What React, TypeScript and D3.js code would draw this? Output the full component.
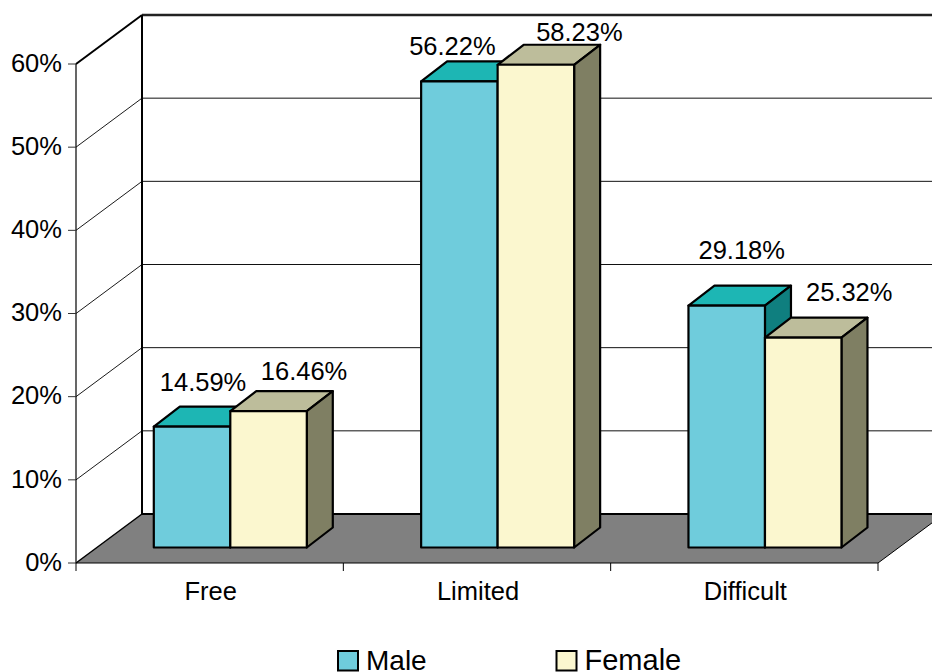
import React from "react";
import * as d3 from "d3";

const categories = ["Free", "Limited", "Difficult"];
const seriesNames = ["Male", "Female"];
const maleValues = [14.59, 56.22, 29.18];
const femaleValues = [16.46, 58.23, 25.32];
const tickValues = [0, 10, 20, 30, 40, 50, 60];

// Hand-placed data label offsets from the top centre of each bar's front face.
const maleLabelNudge = [[11, -36], [-7, -26], [15, -47]];
const femaleLabelNudge = [[35.5, -31], [43.5, -24], [46, -37]];

const maleColors = { front: "#6fccdc", top: "#1db6b4", side: "#0f7f7f" };
const femaleColors = { front: "#fbf7cf", top: "#bdbd9b", side: "#7f7f63" };

const FONT = '"Liberation Sans", Arial, sans-serif';
const WALL_DX = 66;
const WALL_DY = -49;
const BAR_DX = 26;
const BAR_DY = -20;
const BAR_W = 76.5;
const BAR_OFFSET = 77.8;

// Front edge of the walls, and the plane the bars' front faces stand on.
const y = d3.scaleLinear().domain([0, 60]).range([563, 64]);
const yBar = d3.scaleLinear().domain([0, 60]).range([547.5, 50.1]);
const x = d3.scaleBand<string>().domain(categories).range([76, 878]);
const pts = (p: number[][]) => p.map((q) => q.join(",")).join(" ");

function Bar({ x0, value, colors }: { x0: number; value: number; colors: typeof maleColors }) {
  const x1 = x0 + BAR_W;
  const bottom = yBar(0);
  const top = yBar(value);
  const common = { stroke: "#000", strokeWidth: 2.2, strokeLinejoin: "round" as const };
  return (
    <g>
      <polygon {...common} fill={colors.top}
        points={pts([[x0, top], [x1, top], [x1 + BAR_DX, top + BAR_DY], [x0 + BAR_DX, top + BAR_DY]])} />
      <polygon {...common} fill={colors.side}
        points={pts([[x1, top], [x1 + BAR_DX, top + BAR_DY], [x1 + BAR_DX, bottom + BAR_DY], [x1, bottom]])} />
      <rect {...common} x={x0} y={top} width={BAR_W} height={bottom - top} fill={colors.front} />
    </g>
  );
}

export default function App() {
  const left = x.range()[0];
  const right = x.range()[1];
  const backLeft = left + WALL_DX;
  const backRight = right + WALL_DX;
  const textProps = { fontFamily: FONT, fontSize: 25.5, fill: "#000" };
  return (
    <svg width={932} height={672} style={{ position: "absolute", left: 0, top: 0, background: "#fff" }}>
      {/* floor */}
      <polygon fill="#808080"
        points={pts([[left, y(0)], [right, y(0)], [backRight, y(0) + WALL_DY], [backLeft, y(0) + WALL_DY]])} />
      <line x1={backLeft} x2={932} y1={y(0) + WALL_DY} y2={y(0) + WALL_DY} stroke="#000" strokeWidth={2} />
      <line x1={left} y1={y(0)} x2={backLeft} y2={y(0) + WALL_DY} stroke="#000" strokeWidth={1.5} />
      <line x1={right} y1={y(0)} x2={backRight} y2={y(0) + WALL_DY} stroke="#000" strokeWidth={1} />

      {/* gridlines across the side and back walls */}
      {tickValues.slice(1).map((t) => {
        const top = t === 60;
        return (
          <g key={t}>
            <line x1={left} y1={y(t)} x2={backLeft} y2={y(t) + WALL_DY} stroke="#000" strokeWidth={top ? 2 : 0.9} />
            <line x1={backLeft} y1={y(t) + WALL_DY} x2={932} y2={y(t) + WALL_DY} stroke={top ? "#222" : "#111"} strokeWidth={top ? 2.4 : 1} />
          </g>
        );
      })}
      <line x1={backLeft} x2={backLeft} y1={y(60) + WALL_DY} y2={y(0) + WALL_DY} stroke="#000" strokeWidth={2} />

      {/* value axis */}
      <line x1={left} x2={left} y1={y(60)} y2={y(0)} stroke="#000" strokeWidth={1.2} />
      {tickValues.map((t) => (
        <g key={t}>
          <line x1={left - 8} x2={left} y1={y(t)} y2={y(t)} stroke="#333" strokeWidth={1} />
          <text {...textProps} x={62} y={y(t) + 7.8} textAnchor="end">{t}%</text>
        </g>
      ))}

      {/* category axis */}
      <line x1={left} x2={right} y1={y(0)} y2={y(0)} stroke="#000" strokeWidth={1} />
      {[...categories.map((c) => x(c) as number), right].map((tx) => (
        <line key={tx} x1={tx} x2={tx} y1={y(0)} y2={y(0) + 8} stroke="#000" strokeWidth={1} />
      ))}
      {categories.map((c) => (
        <text key={c} {...textProps} x={(x(c) as number) + x.bandwidth() / 2 + 1} y={600} textAnchor="middle">{c}</text>
      ))}

      {/* bars */}
      {categories.map((c, i) => {
        const x0 = (x(c) as number) + BAR_OFFSET;
        return (
          <g key={c}>
            <Bar x0={x0} value={maleValues[i]} colors={maleColors} />
            <Bar x0={x0 + BAR_W} value={femaleValues[i]} colors={femaleColors} />
          </g>
        );
      })}

      {/* data labels */}
      {categories.map((c, i) => {
        const x0 = (x(c) as number) + BAR_OFFSET;
        return (
          <g key={c}>
            <text {...textProps} textAnchor="middle"
              x={x0 + BAR_W / 2 + maleLabelNudge[i][0]}
              y={yBar(maleValues[i]) + maleLabelNudge[i][1]}>{maleValues[i].toFixed(2)}%</text>
            <text {...textProps} textAnchor="middle"
              x={x0 + BAR_W * 1.5 + femaleLabelNudge[i][0]}
              y={yBar(femaleValues[i]) + femaleLabelNudge[i][1]}>{femaleValues[i].toFixed(2)}%</text>
          </g>
        );
      })}

      {/* legend */}
      {seriesNames.map((name, i) => {
        const lx = [338, 556.5][i];
        const colors = i === 0 ? maleColors : femaleColors;
        return (
          <g key={name}>
            <rect x={lx} y={651} width={20} height={19.5} fill={colors.front} stroke="#000" strokeWidth={2} />
            <text fontFamily={FONT} fontSize={i === 0 ? 28 : 29} fill="#000" x={lx + 28} y={669.5}>{name}</text>
          </g>
        );
      })}
    </svg>
  );
}
